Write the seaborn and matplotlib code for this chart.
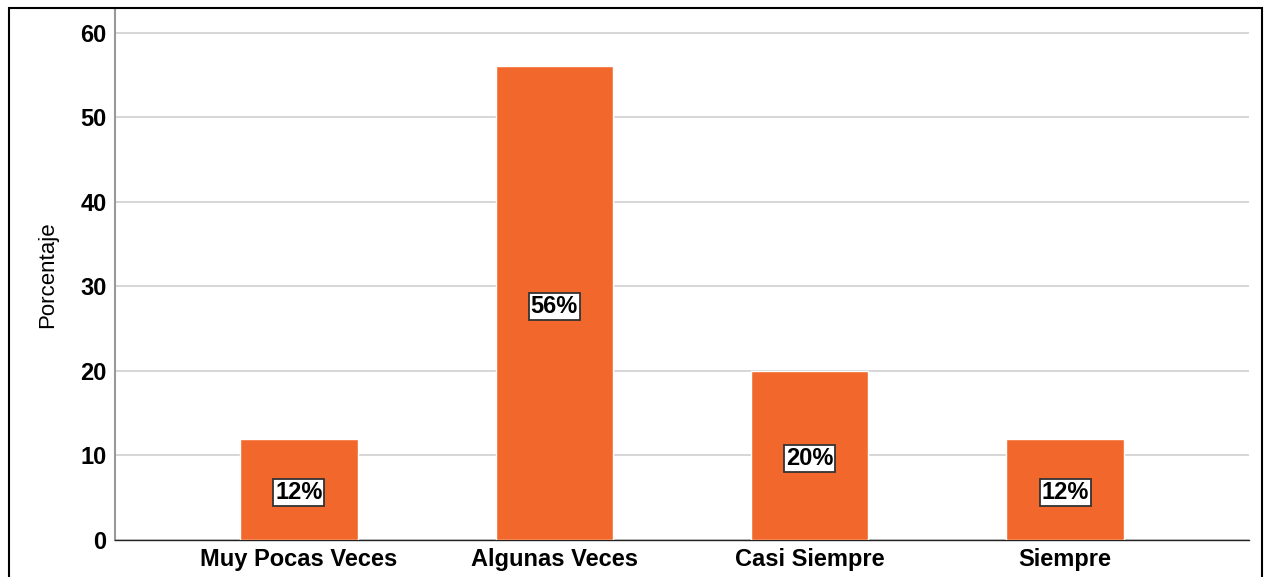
import matplotlib
matplotlib.use("Agg")
import matplotlib.pyplot as plt
import seaborn as sns
import pandas as pd
from matplotlib.patches import Rectangle

# data
categorias = ["Muy Pocas Veces", "Algunas Veces", "Casi Siempre", "Siempre"]
porcentajes = [12, 56, 20, 12]
etiquetas = ["12%", "56%", "20%", "12%"]

df = pd.DataFrame({"categoria": categorias, "porcentaje": porcentajes})

sns.set_theme(style="white")
plt.rcParams["font.family"] = ["Liberation Sans", "DejaVu Sans"]
plt.rcParams["text.color"] = "black"
plt.rcParams["axes.labelcolor"] = "black"
plt.rcParams["xtick.color"] = "black"
plt.rcParams["ytick.color"] = "black"

fig = plt.figure(figsize=(12.65, 5.77), dpi=100)
ax = fig.add_axes([0.0909, 0.0641, 0.8965, 0.9203])

sns.barplot(data=df, x="categoria", y="porcentaje", color="#F2682C",
            saturation=1, width=0.46, ax=ax, zorder=3)

for i, (v, t) in enumerate(zip(porcentajes, etiquetas)):
    ax.text(i, v / 2 - 0.4, t, ha="center", va="center", fontsize=17,
            fontweight="bold", color="black", zorder=4,
            bbox=dict(boxstyle="square,pad=0.08", fc="white", ec="#333333", lw=1.3))

ax.set_xlim(-0.72, 3.72)
ax.set_ylim(0, 62.8)
ax.set_yticks([0, 10, 20, 30, 40, 50, 60])
ax.yaxis.grid(True, color="#cfcfcf", lw=1.2, zorder=0)
ax.xaxis.grid(False)
ax.set_xlabel("")
ax.set_ylabel("Porcentaje", fontsize=16, labelpad=16)
ax.tick_params(axis="both", length=0, labelsize=17, pad=6)
for lab in ax.get_xticklabels() + ax.get_yticklabels():
    lab.set_fontweight("bold")

for s in ["top", "right"]:
    ax.spines[s].set_visible(False)
ax.spines["left"].set_color("#999999")
ax.spines["left"].set_linewidth(1.5)
ax.spines["bottom"].set_color("#222222")
ax.spines["bottom"].set_linewidth(1.0)

# outer frame around the chart
fig.patches.append(Rectangle((9 / 1265, -0.05), 1253 / 1265, 1.05 - 8 / 577,
                             transform=fig.transFigure, fill=False,
                             ec="black", lw=1.5))

fig.savefig("out.png", dpi=100)
